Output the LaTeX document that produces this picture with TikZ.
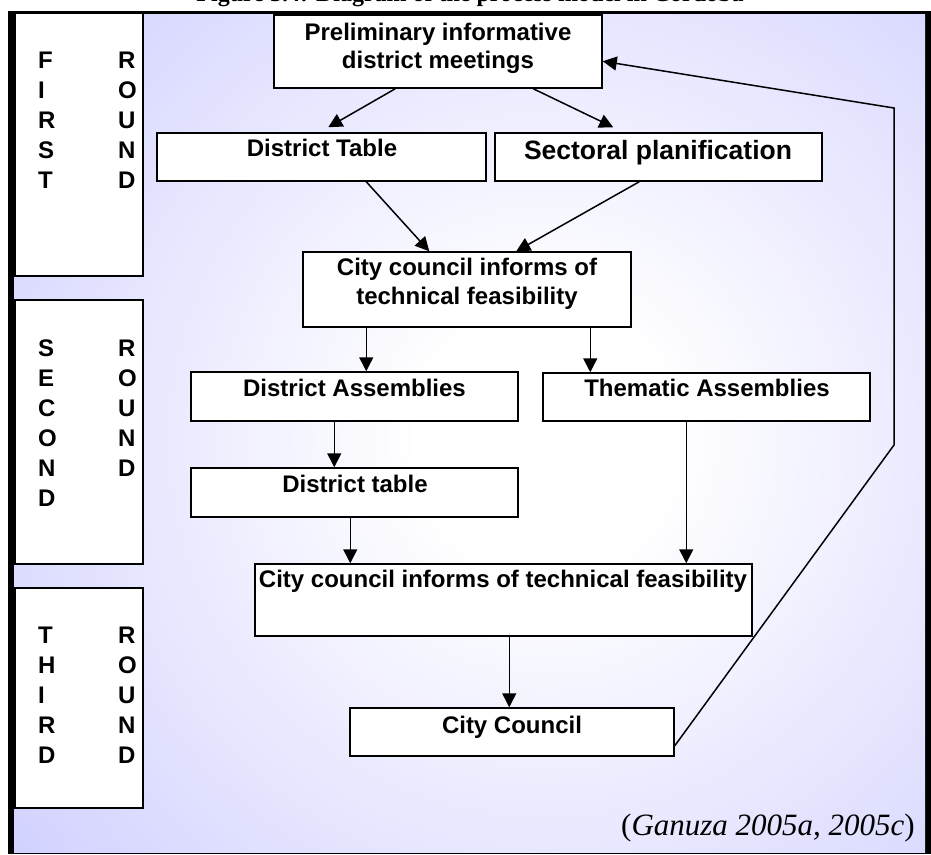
\documentclass[tikz,border=0pt]{standalone}
\usepackage{fontspec}
\setmainfont{Liberation Serif}
\newfontfamily\boxfont{Liberation Sans}
\usetikzlibrary{arrows.meta,calc}
\definecolor{bgblue}{RGB}{204,204,255}
\pgfdeclareradialshading{bgshade}{\pgfpoint{0bp}{0bp}}{color(0bp)=(white); color(4bp)=(white); color(23bp)=(bgblue); color(50bp)=(bgblue)}
\tikzset{
  box/.style={draw=black, line width=1.5pt, fill=white, inner sep=0pt, anchor=center},
  lbl/.style={font=\boxfont\bfseries\fontsize{24}{28}\selectfont, inner sep=0pt, text height=17.2pt, text depth=0pt, anchor=center},
  biglbl/.style={font=\boxfont\bfseries\fontsize{26.5}{30}\selectfont, inner sep=0pt, text height=19pt, text depth=0pt, anchor=center},
  roundlbl/.style={font=\boxfont\bfseries\fontsize{24}{30}\selectfont, inner sep=0pt, align=left, anchor=north west},
  arr/.style={line width=1.5pt, -{Triangle[length=14pt,width=14pt]}},
}
\begin{document}
\begin{tikzpicture}[x=1pt,y=-1pt]
\useasboundingbox (0,0) rectangle (931,854);
% title (cut off at top, as in the reference)
\node[font=\bfseries\fontsize{24}{28}\selectfont, anchor=base, inner sep=0pt] (title) at (470,1) {Figure 3.4: Diagram of the process model in Córdoba};
% frame
\fill[black] (8,11) rectangle (931,854);
\begin{scope}
  \clip (14,14) rectangle (925,852);
  \fill[bgblue] (14,14) rectangle (925,852);
  \shade[shading=bgshade] (545,440) circle (800pt);
\end{scope}
% round boxes
\node[box, minimum width=128pt, minimum height=263pt] (r1) at (79,144.5) {};
\node[box, minimum width=128pt, minimum height=264pt] (r2) at (79,432) {};
\node[box, minimum width=128pt, minimum height=220pt] (r3) at (79,698) {};
\node[roundlbl] (r1a) at (38,51.4) {F\\I\\R\\S\\T};
\node[roundlbl] (r1b) at (118,51.4) {R\\O\\U\\N\\D};
\node[roundlbl] (r2a) at (38,339.4) {S\\E\\C\\O\\N\\D};
\node[roundlbl] (r2b) at (118,339.4) {R\\O\\U\\N\\D};
\node[roundlbl] (r3a) at (38,626.4) {T\\H\\I\\R\\D};
\node[roundlbl] (r3b) at (118,626.4) {R\\O\\U\\N\\D};
% flow boxes
\node[box, minimum width=328pt, minimum height=73pt] (prelim) at (438,51.5) {};
\node[box, minimum width=329pt, minimum height=48pt] (dtable1) at (321.5,157) {};
\node[box, minimum width=327pt, minimum height=48pt] (sectoral) at (658.5,157) {};
\node[box, minimum width=328pt, minimum height=75pt] (cc1) at (467,289.5) {};
\node[box, minimum width=327pt, minimum height=49pt] (dassem) at (354.5,396.5) {};
\node[box, minimum width=327pt, minimum height=48pt] (thassem) at (706.5,397) {};
\node[box, minimum width=327pt, minimum height=49pt] (dtable2) at (354.5,492.5) {};
\node[box, minimum width=497pt, minimum height=72pt] (cc2) at (503.5,600) {};
\node[box, minimum width=324pt, minimum height=48pt] (council) at (512,732) {};
% labels
\node[lbl] (prelimA) at (438,32) {Preliminary informative};
\node[lbl] (prelimB) at (438,60) {district meetings};
\node[lbl] (dtable1t) at (322,148) {District Table};
\node[biglbl] (sectoralt) at (658,150) {Sectoral planification};
\node[lbl] (cc1A) at (467,267) {City council informs of};
\node[lbl] (cc1B) at (467,296) {technical feasibility};
\node[lbl] (dassemt) at (354.5,388) {District Assemblies};
\node[lbl] (thassemt) at (707,388) {Thematic Assemblies};
\node[lbl] (dtable2t) at (355,484) {District table};
\node[lbl] (cc2t) at (503,579) {City council informs of technical feasibility};
\node[lbl] (councilt) at (512,725) {City Council};
% citation
\node[font=\fontsize{31}{34}\selectfont, anchor=base east, inner sep=0pt] (cite) at (915,835) {(\textit{Ganuza 2005a, 2005c})};
% connectors
\draw[arr] ($(prelim.south west)+(122,0)$) -- ($(dtable1.north west)+(172,-5)$);
\draw[arr] ($(prelim.south west)+(260,0)$) -- ($(sectoral.north west)+(119,-5)$);
\draw[arr] ($(dtable1.south west)+(210,0)$) -- ($(cc1.north west)+(127,0)$);
\draw[arr] ($(sectoral.south west)+(145,0)$) -- ($(cc1.north west)+(214,0)$);
\coordinate (s5) at ($(cc1.south west)+(64,0)$);
\draw[arr] (s5) -- (s5 |- dassem.north);
\coordinate (s6) at ($(cc1.south west)+(288,0)$);
\draw[arr] (s6) -- (s6 |- thassem.north);
\coordinate (s7) at ($(dassem.south west)+(144,0)$);
\draw[arr] (s7) -- (s7 |- dtable2.north);
\coordinate (s8) at ($(dtable2.south west)+(160,0)$);
\draw[arr] (s8) -- (s8 |- cc2.north);
\coordinate (s9) at ($(thassem.south west)+(144,0)$);
\draw[arr] (s9) -- (s9 |- cc2.north);
\coordinate (s10) at ($(cc2.south west)+(255,0)$);
\draw[arr] (s10) -- (s10 |- council.north);
\coordinate (fb1) at (894,445);
\coordinate (fb2) at (894,108);
\draw[arr] ($(council.south east)+(0,-11)$) -- (fb1) -- (fb2) -- ($(prelim.north east)+(0,47)$);
\end{tikzpicture}
\end{document}
